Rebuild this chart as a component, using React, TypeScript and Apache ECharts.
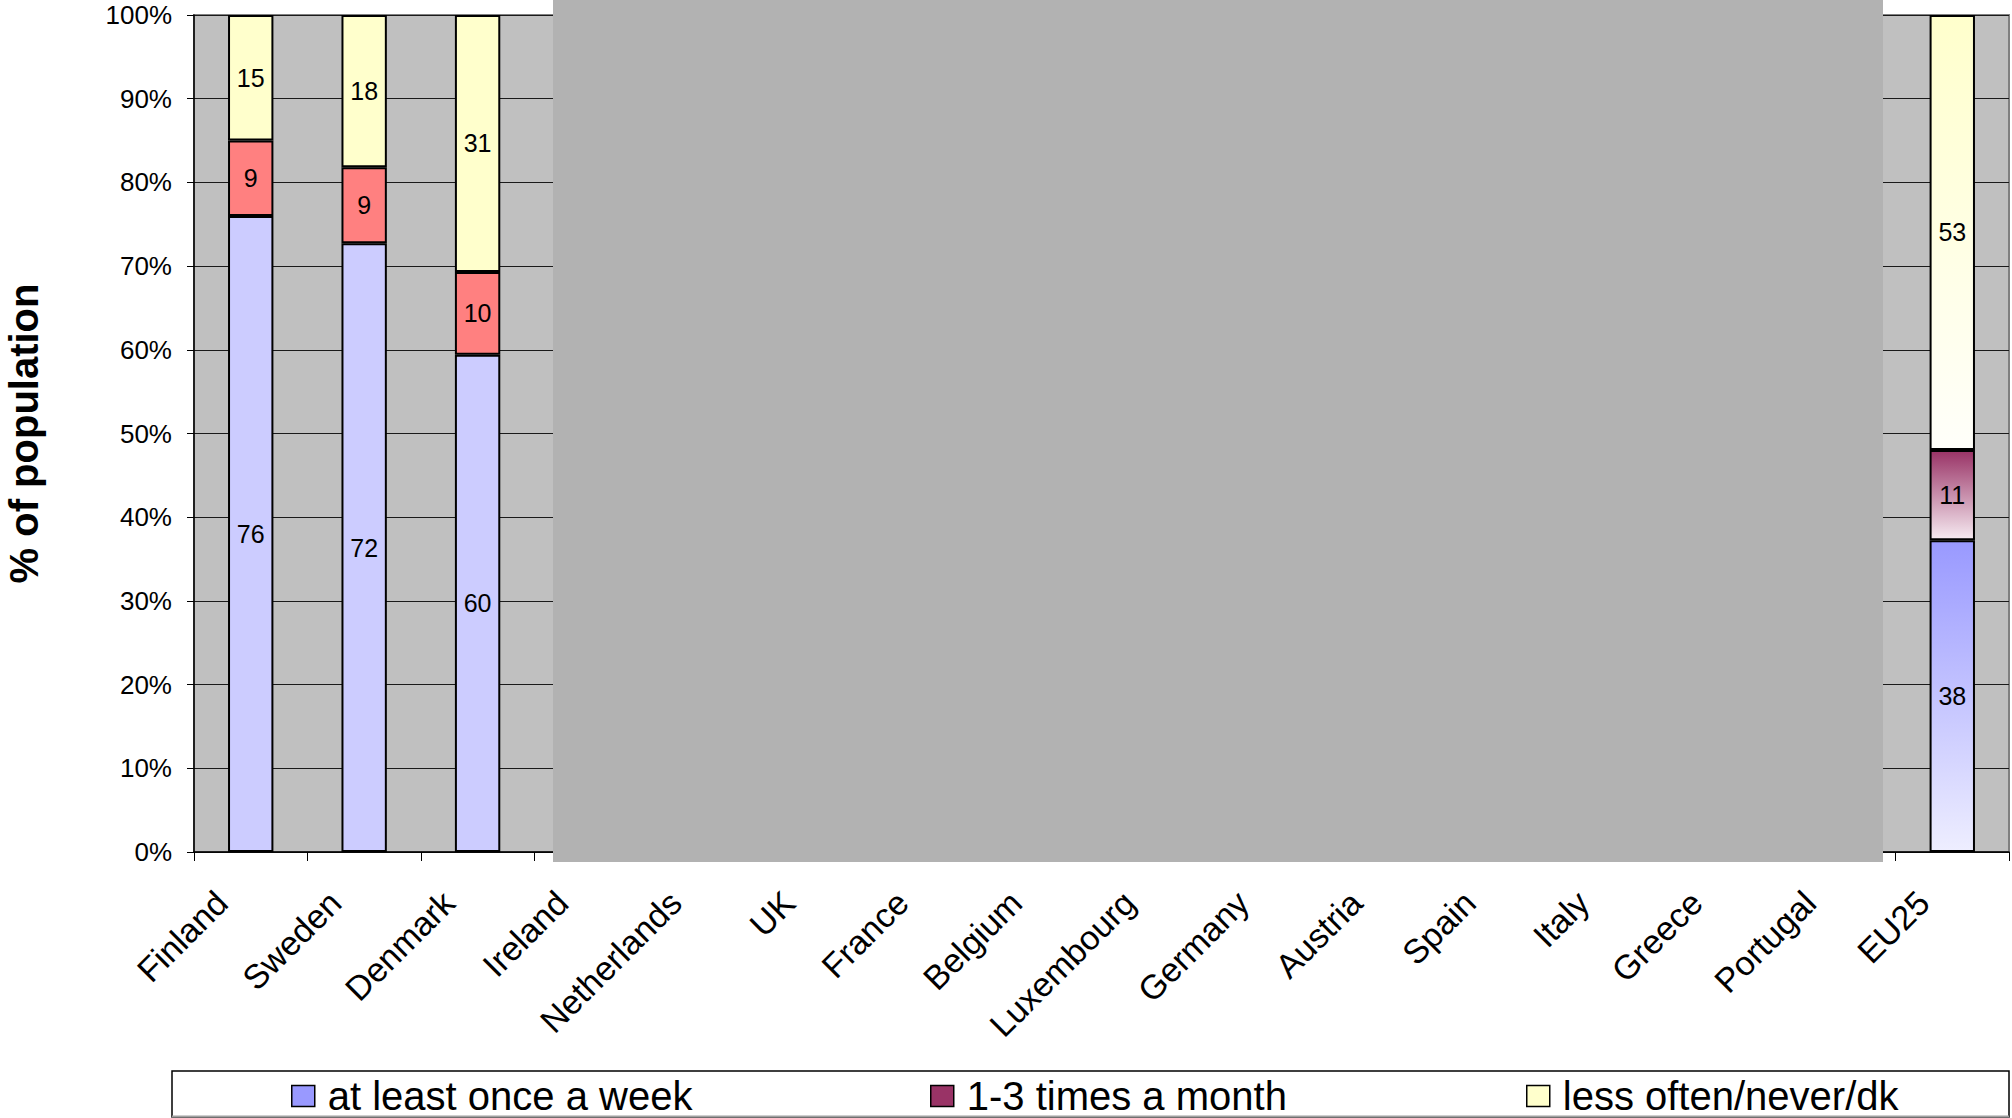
import React, { useEffect, useRef } from 'react';
import * as echarts from 'echarts';

// Countries (and the EU average) along the horizontal axis
const categories = [
  'Finland', 'Sweden', 'Denmark', 'Ireland', 'Netherlands', 'UK', 'France', 'Belgium',
  'Luxembourg', 'Germany', 'Austria', 'Spain', 'Italy', 'Greece', 'Portugal', 'EU25',
];

// Frequency shares as labelled on the bars (null = not shown)
const weekly: (number | null)[] = [76, 72, 60, null, null, null, null, null, null, null, null, null, null, null, null, 38];
const monthly: (number | null)[] = [9, 9, 10, null, null, null, null, null, null, null, null, null, null, null, null, 11];
const rarely: (number | null)[] = [15, 18, 31, null, null, null, null, null, null, null, null, null, null, null, null, 53];

const seriesNames = ['at least once a week', '1-3 times a month', 'less often/never/dk'];
const yTickValues = [0, 10, 20, 30, 40, 50, 60, 70, 80, 90, 100];

const FONT = '"Liberation Sans", Arial, Helvetica, sans-serif';

// Solid colours used by the legend; the first three countries use lighter fills
const seriesColors = ['#9999ff', '#993366', '#ffffcc'];
const lightColors = ['#ccccff', '#ff8080', '#ffffcc'];
const gradientStops: [string, string][] = [
  ['#9999ff', '#eeeeff'],
  ['#993366', '#f6eaf1'],
  ['#ffffcc', '#fffffa'],
];

const total = (i: number) => (weekly[i] ?? 0) + (monthly[i] ?? 0) + (rarely[i] ?? 0);

function buildData(values: (number | null)[], k: number) {
  return values.map((v, i) => {
    if (v == null) return '-';
    // 100% stacked: each segment is its share of the bar total
    const share = (v / total(i)) * 100;
    if (categories[i] === 'EU25') {
      return {
        value: share,
        itemStyle: {
          color: new echarts.graphic.LinearGradient(0, 0, 0, 1, [
            { offset: 0, color: gradientStops[k][0] },
            { offset: 1, color: gradientStops[k][1] },
          ]),
        },
      };
    }
    return { value: share, itemStyle: { color: lightColors[k] } };
  });
}

export default function App() {
  const ref = useRef<HTMLDivElement>(null);

  useEffect(() => {
    if (!ref.current) return;
    const chart = echarts.init(ref.current, undefined, { renderer: 'svg' });
    const raw = [weekly, monthly, rarely];

    const legendLefts = [291, 930, 1526];

    chart.setOption({
      animation: false,
      backgroundColor: '#ffffff',
      grid: {
        left: 194,
        right: 3,
        top: 15,
        bottom: 266,
        outerBoundsMode: 'none',
        show: true,
        backgroundColor: '#c0c0c0',
        borderColor: '#808080',
        borderWidth: 2,
      },
      xAxis: {
        type: 'category',
        data: categories,
        axisLine: { show: true, lineStyle: { color: '#000', width: 1.5 } },
        axisTick: { show: true, length: 9, interval: 0, lineStyle: { color: '#000', width: 1 } },
        axisLabel: {
          interval: 0,
          rotate: 45,
          margin: 16,
          padding: [0, 41, 0, 0],
          color: '#000',
          fontSize: 34,
          fontFamily: FONT,
        },
        splitLine: { show: false },
      },
      yAxis: {
        type: 'value',
        min: 0,
        max: 100,
        interval: 10,
        name: '% of population',
        nameLocation: 'middle',
        nameGap: 150,
        nameTextStyle: { fontSize: 40, fontWeight: 'bold', fontFamily: FONT, color: '#000' },
        axisLine: { show: true, lineStyle: { color: '#000', width: 1.5 } },
        axisTick: { show: true, length: 7, lineStyle: { color: '#000' } },
        axisLabel: {
          margin: 22,
          color: '#000',
          fontSize: 26,
          fontFamily: FONT,
          formatter: (v: number) => (yTickValues.includes(v) ? `${v}%` : ''),
        },
        splitLine: { show: true, lineStyle: { color: '#1a1a1a', width: 1 } },
      },
      legend: seriesNames.map((name, k) => ({
        data: [name],
        left: legendLefts[k],
        top: 1076,
        padding: 0,
        icon: 'rect',
        itemWidth: 23,
        itemHeight: 21,
        itemStyle: { borderColor: '#000', borderWidth: 1.5 },
        selectedMode: false,
        textStyle: { fontSize: 40, fontFamily: FONT, color: '#000', padding: [0, 0, 0, 8] },
      })),
      series: seriesNames.map((name, k) => ({
        name,
        type: 'bar',
        stack: 'total',
        barWidth: '40%',
        itemStyle: { color: seriesColors[k], borderColor: '#000', borderWidth: 2 },
        label: {
          show: true,
          position: 'inside',
          color: '#000',
          fontSize: 25,
          fontFamily: FONT,
          formatter: (p: any) => String(raw[k][p.dataIndex]),
        },
        data: buildData(raw[k], k),
      })),
      graphic: [
        // grey panel over the middle of the plot
        {
          type: 'rect',
          z: 100,
          shape: { x: 553, y: 0, width: 1330, height: 862 },
          style: { fill: '#b2b2b2' },
        },
        // legend frame
        {
          type: 'rect',
          z: 0,
          shape: { x: 172, y: 1071, width: 1837, height: 46 },
          style: { fill: '#ffffff', stroke: '#000', lineWidth: 1.5 },
        },
        {
          type: 'line',
          z: 1,
          shape: { x1: 172, y1: 1116.5, x2: 2009, y2: 1116.5 },
          style: { stroke: '#a0a0a0', lineWidth: 2 },
        },
      ],
    });

    return () => chart.dispose();
  }, []);

  return (
    <div
      ref={ref}
      style={{ position: 'absolute', left: 0, top: 0, width: 2012, height: 1118 }}
    />
  );
}
